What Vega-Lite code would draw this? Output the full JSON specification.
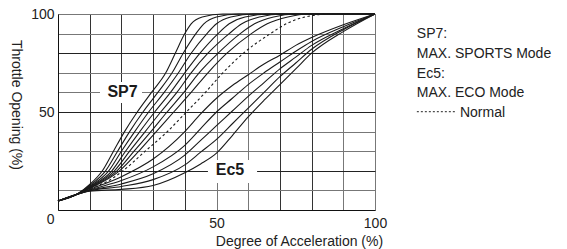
{
  "$schema": "https://vega.github.io/schema/vega-lite/v6.json",
  "width": 317,
  "height": 196,
  "autosize": {"type": "none"},
  "padding": {"left": 58, "top": 14, "right": 192, "bottom": 39},
  "background": "white",
  "config": {"view": {"stroke": null}, "font": "Liberation Sans"},
  "datasets": {
    "boxes": [
      {"x": 13.25, "x2": 26.5, "y": 54.6, "y2": 65.3},
      {"x": 47.3, "x2": 62.8, "y": 13.8, "y2": 25.5}
    ],
    "labels": [
      {"t": "SP7", "x": 20.35, "y": 57.8},
      {"t": "Ec5", "x": 54.26, "y": 17.86}
    ],
    "legend": [
      {"t": "SP7:", "x": 113.2, "y": 87.76},
      {"t": "MAX. SPORTS Mode", "x": 113.2, "y": 77.55},
      {"t": "Ec5:", "x": 113.2, "y": 67.35},
      {"t": "MAX. ECO Mode", "x": 113.2, "y": 57.65},
      {"t": "Normal", "x": 126.8, "y": 47.45}
    ],
    "legdash": [{"x": 113.2, "x2": 125.2, "y": 50.15}],
    "normal": [
      {"x": 0, "y": 4.6}, {"x": 6, "y": 8}, {"x": 10, "y": 10.8}, {"x": 16, "y": 15},
      {"x": 20.5, "y": 20}, {"x": 27.5, "y": 30}, {"x": 34.5, "y": 40}, {"x": 40.5, "y": 50},
      {"x": 46.5, "y": 60}, {"x": 52, "y": 70}, {"x": 58.5, "y": 80}, {"x": 67, "y": 90},
      {"x": 72, "y": 95}, {"x": 78, "y": 98.5}, {"x": 86, "y": 100}, {"x": 100, "y": 100}
    ],
    "curves": [
      {"c": "SP7", "x": 0, "y": 4.6}, {"c": "SP7", "x": 6, "y": 8}, {"c": "SP7", "x": 10, "y": 13},
      {"c": "SP7", "x": 14, "y": 20}, {"c": "SP7", "x": 17.5, "y": 30}, {"c": "SP7", "x": 21, "y": 40},
      {"c": "SP7", "x": 25, "y": 50}, {"c": "SP7", "x": 29.5, "y": 60}, {"c": "SP7", "x": 34, "y": 70},
      {"c": "SP7", "x": 37, "y": 80}, {"c": "SP7", "x": 40, "y": 90}, {"c": "SP7", "x": 42, "y": 95},
      {"c": "SP7", "x": 45.5, "y": 98.5}, {"c": "SP7", "x": 52, "y": 100}, {"c": "SP7", "x": 100, "y": 100},

      {"c": "SP6", "x": 0, "y": 4.6}, {"c": "SP6", "x": 6, "y": 8}, {"c": "SP6", "x": 10, "y": 12.5},
      {"c": "SP6", "x": 15, "y": 20}, {"c": "SP6", "x": 18.8, "y": 30}, {"c": "SP6", "x": 22.6, "y": 40},
      {"c": "SP6", "x": 26.8, "y": 50}, {"c": "SP6", "x": 31.5, "y": 60}, {"c": "SP6", "x": 36, "y": 70},
      {"c": "SP6", "x": 39.5, "y": 80}, {"c": "SP6", "x": 43.5, "y": 90}, {"c": "SP6", "x": 46, "y": 95},
      {"c": "SP6", "x": 50, "y": 98.5}, {"c": "SP6", "x": 57, "y": 100}, {"c": "SP6", "x": 100, "y": 100},

      {"c": "SP5", "x": 0, "y": 4.6}, {"c": "SP5", "x": 6, "y": 8}, {"c": "SP5", "x": 10, "y": 12.1},
      {"c": "SP5", "x": 16, "y": 20}, {"c": "SP5", "x": 20, "y": 30}, {"c": "SP5", "x": 24.2, "y": 40},
      {"c": "SP5", "x": 28.6, "y": 50}, {"c": "SP5", "x": 33.5, "y": 60}, {"c": "SP5", "x": 38, "y": 70},
      {"c": "SP5", "x": 42, "y": 80}, {"c": "SP5", "x": 47, "y": 90}, {"c": "SP5", "x": 50, "y": 95},
      {"c": "SP5", "x": 54.5, "y": 98.5}, {"c": "SP5", "x": 62, "y": 100}, {"c": "SP5", "x": 100, "y": 100},

      {"c": "SP4", "x": 0, "y": 4.6}, {"c": "SP4", "x": 6, "y": 8}, {"c": "SP4", "x": 10, "y": 11.8},
      {"c": "SP4", "x": 17, "y": 20}, {"c": "SP4", "x": 21.3, "y": 30}, {"c": "SP4", "x": 25.8, "y": 40},
      {"c": "SP4", "x": 30.5, "y": 50}, {"c": "SP4", "x": 35.5, "y": 60}, {"c": "SP4", "x": 40, "y": 70},
      {"c": "SP4", "x": 44.8, "y": 80}, {"c": "SP4", "x": 50.5, "y": 90}, {"c": "SP4", "x": 54, "y": 95},
      {"c": "SP4", "x": 59, "y": 98.5}, {"c": "SP4", "x": 67, "y": 100}, {"c": "SP4", "x": 100, "y": 100},

      {"c": "SP3", "x": 0, "y": 4.6}, {"c": "SP3", "x": 6, "y": 8}, {"c": "SP3", "x": 10, "y": 11.5},
      {"c": "SP3", "x": 17.8, "y": 20}, {"c": "SP3", "x": 22.6, "y": 30}, {"c": "SP3", "x": 27.5, "y": 40},
      {"c": "SP3", "x": 32.4, "y": 50}, {"c": "SP3", "x": 37.5, "y": 60}, {"c": "SP3", "x": 42, "y": 70},
      {"c": "SP3", "x": 47.3, "y": 80}, {"c": "SP3", "x": 54, "y": 90}, {"c": "SP3", "x": 58, "y": 95},
      {"c": "SP3", "x": 63.5, "y": 98.5}, {"c": "SP3", "x": 71, "y": 100}, {"c": "SP3", "x": 100, "y": 100},

      {"c": "SP2", "x": 0, "y": 4.6}, {"c": "SP2", "x": 6, "y": 8}, {"c": "SP2", "x": 10, "y": 11.2},
      {"c": "SP2", "x": 18.6, "y": 20}, {"c": "SP2", "x": 24, "y": 30}, {"c": "SP2", "x": 29.3, "y": 40},
      {"c": "SP2", "x": 34.4, "y": 50}, {"c": "SP2", "x": 39.7, "y": 60}, {"c": "SP2", "x": 44.5, "y": 70},
      {"c": "SP2", "x": 50.5, "y": 80}, {"c": "SP2", "x": 57.5, "y": 90}, {"c": "SP2", "x": 62, "y": 95},
      {"c": "SP2", "x": 68, "y": 98.5}, {"c": "SP2", "x": 75, "y": 100}, {"c": "SP2", "x": 100, "y": 100},

      {"c": "SP1", "x": 0, "y": 4.6}, {"c": "SP1", "x": 6, "y": 8}, {"c": "SP1", "x": 10, "y": 11},
      {"c": "SP1", "x": 19.4, "y": 20}, {"c": "SP1", "x": 25.5, "y": 30}, {"c": "SP1", "x": 31, "y": 40},
      {"c": "SP1", "x": 36.5, "y": 50}, {"c": "SP1", "x": 42, "y": 60}, {"c": "SP1", "x": 47.3, "y": 70},
      {"c": "SP1", "x": 53.3, "y": 80}, {"c": "SP1", "x": 61, "y": 90}, {"c": "SP1", "x": 66, "y": 95},
      {"c": "SP1", "x": 72.5, "y": 98.5}, {"c": "SP1", "x": 79, "y": 100}, {"c": "SP1", "x": 100, "y": 100},

      {"c": "Ec1", "x": 0, "y": 4.6}, {"c": "Ec1", "x": 6, "y": 8}, {"c": "Ec1", "x": 10, "y": 10.5},
      {"c": "Ec1", "x": 20, "y": 17}, {"c": "Ec1", "x": 30, "y": 26}, {"c": "Ec1", "x": 40, "y": 40},
      {"c": "Ec1", "x": 45, "y": 49}, {"c": "Ec1", "x": 50, "y": 57}, {"c": "Ec1", "x": 55, "y": 63.5},
      {"c": "Ec1", "x": 60, "y": 69}, {"c": "Ec1", "x": 65, "y": 74.5}, {"c": "Ec1", "x": 70, "y": 79},
      {"c": "Ec1", "x": 75, "y": 84}, {"c": "Ec1", "x": 80, "y": 88}, {"c": "Ec1", "x": 90, "y": 94.5},
      {"c": "Ec1", "x": 100, "y": 100},

      {"c": "Ec2", "x": 0, "y": 4.6}, {"c": "Ec2", "x": 6, "y": 8}, {"c": "Ec2", "x": 10, "y": 10.2},
      {"c": "Ec2", "x": 20, "y": 15}, {"c": "Ec2", "x": 30, "y": 22}, {"c": "Ec2", "x": 40, "y": 33},
      {"c": "Ec2", "x": 45, "y": 41.5}, {"c": "Ec2", "x": 50, "y": 50}, {"c": "Ec2", "x": 55, "y": 57},
      {"c": "Ec2", "x": 60, "y": 64}, {"c": "Ec2", "x": 65, "y": 70}, {"c": "Ec2", "x": 70, "y": 75.5},
      {"c": "Ec2", "x": 75, "y": 81}, {"c": "Ec2", "x": 80, "y": 86}, {"c": "Ec2", "x": 90, "y": 93.5},
      {"c": "Ec2", "x": 100, "y": 100},

      {"c": "Ec3", "x": 0, "y": 4.6}, {"c": "Ec3", "x": 6, "y": 8}, {"c": "Ec3", "x": 10, "y": 10},
      {"c": "Ec3", "x": 20, "y": 13.3}, {"c": "Ec3", "x": 30, "y": 18.5}, {"c": "Ec3", "x": 40, "y": 28},
      {"c": "Ec3", "x": 45, "y": 35.5}, {"c": "Ec3", "x": 50, "y": 43}, {"c": "Ec3", "x": 55, "y": 50.5},
      {"c": "Ec3", "x": 60, "y": 58}, {"c": "Ec3", "x": 65, "y": 65}, {"c": "Ec3", "x": 70, "y": 72},
      {"c": "Ec3", "x": 75, "y": 78}, {"c": "Ec3", "x": 80, "y": 84}, {"c": "Ec3", "x": 90, "y": 92.5},
      {"c": "Ec3", "x": 100, "y": 100},

      {"c": "Ec4", "x": 0, "y": 4.6}, {"c": "Ec4", "x": 6, "y": 8}, {"c": "Ec4", "x": 10, "y": 9.8},
      {"c": "Ec4", "x": 20, "y": 12}, {"c": "Ec4", "x": 30, "y": 15.5}, {"c": "Ec4", "x": 40, "y": 23},
      {"c": "Ec4", "x": 45, "y": 29.5}, {"c": "Ec4", "x": 50, "y": 36}, {"c": "Ec4", "x": 55, "y": 44},
      {"c": "Ec4", "x": 60, "y": 52}, {"c": "Ec4", "x": 65, "y": 60}, {"c": "Ec4", "x": 70, "y": 68},
      {"c": "Ec4", "x": 75, "y": 75}, {"c": "Ec4", "x": 80, "y": 82}, {"c": "Ec4", "x": 90, "y": 92},
      {"c": "Ec4", "x": 100, "y": 100},

      {"c": "Ec5", "x": 0, "y": 4.6}, {"c": "Ec5", "x": 6, "y": 8}, {"c": "Ec5", "x": 10, "y": 9.6},
      {"c": "Ec5", "x": 20, "y": 10.5}, {"c": "Ec5", "x": 30, "y": 12.5}, {"c": "Ec5", "x": 40, "y": 19},
      {"c": "Ec5", "x": 45, "y": 23.5}, {"c": "Ec5", "x": 50, "y": 29}, {"c": "Ec5", "x": 55, "y": 38},
      {"c": "Ec5", "x": 60, "y": 47.5}, {"c": "Ec5", "x": 65, "y": 56}, {"c": "Ec5", "x": 70, "y": 64},
      {"c": "Ec5", "x": 75, "y": 72}, {"c": "Ec5", "x": 80, "y": 80}, {"c": "Ec5", "x": 90, "y": 91},
      {"c": "Ec5", "x": 100, "y": 100}
    ]
  },
  "encoding": {
    "x": {
      "field": "x", "type": "quantitative",
      "scale": {"domain": [0, 100], "nice": false},
      "axis": {
        "values": [0, 10, 20, 30, 40, 50, 60, 70, 80, 90, 100],
        "labelExpr": "datum.value == 50 || datum.value == 100 ? datum.label : ''",
        "labelFlush": false,
        "ticks": false,
        "domainColor": "#111",
        "gridColor": {"condition": {"test": "datum.value == 50 || datum.value == 60 || datum.value == 90 || datum.value == 100", "value": "#777"}, "value": "#333"},
        "gridOpacity": 1,
        "labelFontSize": 14,
        "labelColor": "#222",
        "labelPadding": 6,
        "title": "Degree of Acceleration (%)",
        "titleFontSize": 14,
        "titleFontWeight": "normal",
        "titleColor": "#222",
        "titleX": 241,
        "titleY": 35,
        "titleAlign": "center",
        "titleBaseline": "alphabetic"
      }
    },
    "y": {
      "field": "y", "type": "quantitative",
      "scale": {"domain": [0, 100], "nice": false},
      "axis": {
        "values": [0, 10, 20, 30, 40, 50, 60, 70, 80, 90, 100],
        "labelExpr": "datum.value % 50 == 0 ? datum.label : ''",
        "labelFlush": false,
        "labelBaseline": {"condition": {"test": "datum.value == 0", "value": "top"}, "value": "middle"},
        "labelOffset": {"condition": {"test": "datum.value == 0", "value": 2}, "value": 0},
        "ticks": false,
        "domainColor": "#111",
        "gridColor": {"condition": {"test": "datum.value == 20 || datum.value == 50 || datum.value == 80", "value": "#222"}, "value": "#777"},
        "gridOpacity": 1,
        "labelFontSize": 14,
        "labelColor": "#222",
        "labelPadding": 4,
        "title": "Throttle Opening (%)",
        "titleFontSize": 14,
        "titleFontWeight": "normal",
        "titleColor": "#222",
        "titleAngle": 90,
        "titleX": -43,
        "titleY": 90.5,
        "titleAlign": "center",
        "titleBaseline": "middle"
      }
    }
  },
  "layer": [
    {
      "data": {"name": "boxes"},
      "mark": {"type": "rect", "fill": "white"},
      "encoding": {"x2": {"field": "x2"}, "y2": {"field": "y2"}}
    },
    {
      "data": {"name": "curves"},
      "mark": {"type": "line", "interpolate": "monotone", "stroke": "#1a1a1a", "strokeWidth": 1.1},
      "encoding": {"detail": {"field": "c"}}
    },
    {
      "data": {"name": "normal"},
      "mark": {"type": "line", "interpolate": "monotone", "stroke": "#1a1a1a", "strokeWidth": 1.1, "strokeDash": [2.5, 2.5]},
      "encoding": {}
    },
    {
      "data": {"name": "labels"},
      "mark": {"type": "text", "fontWeight": "bold", "fontSize": 16, "align": "center", "baseline": "alphabetic", "color": "#1a1a1a"},
      "encoding": {"text": {"field": "t"}}
    },
    {
      "data": {"name": "legend"},
      "mark": {"type": "text", "fontSize": 14, "align": "left", "baseline": "alphabetic", "color": "#222"},
      "encoding": {"text": {"field": "t"}}
    },
    {
      "data": {"name": "legdash"},
      "mark": {"type": "rule", "stroke": "#222", "strokeDash": [2, 2]},
      "encoding": {"x2": {"field": "x2"}}
    }
  ]
}
